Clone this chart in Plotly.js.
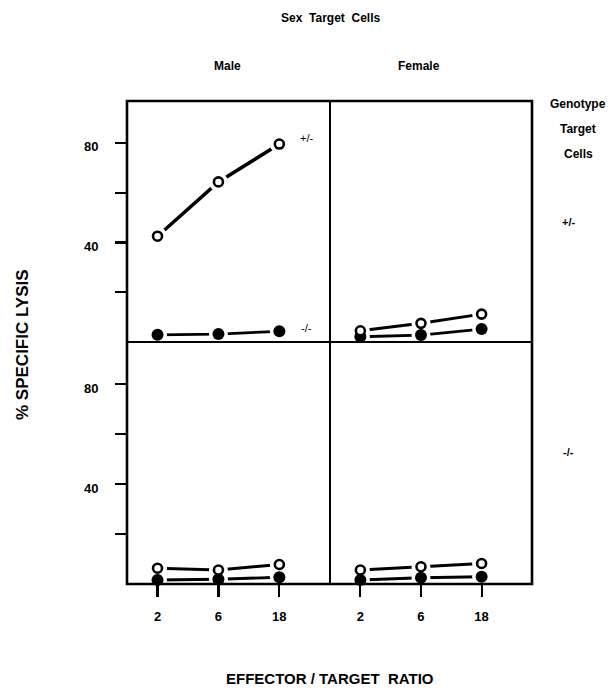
<!DOCTYPE html>
<html>
<head>
<meta charset="utf-8">
<script src="https://cdn.plot.ly/plotly-3.0.1.min.js"></script>
<style>html,body{margin:0;padding:0;background:#fff;}#chart{width:614px;height:690px;}</style>
</head>
<body>
<div id="chart"></div>
<script>
// ---- data ----
var ratios = [2, 6, 18];
var ratioLabels = ['2', '6', '18'];
var yTickVals = [20, 40, 60, 80];
var yTickText = ['', '40', '', '80'];
// open circles = +/- effectors, filled circles = -/- effectors
var maleHetOpen     = [42.5, 64.3, 79.5];
var maleHetFilled   = [2.9, 3.2, 4.3];
var femaleHetOpen   = [4.5, 7.5, 11.2];
var femaleHetFilled = [2.1, 2.8, 5.2];
var maleNullOpen    = [6.3, 5.6, 7.8];
var maleNullFilled  = [1.6, 1.9, 2.7];
var femaleNullOpen  = [5.6, 6.9, 8.2];
var femaleNullFilled= [1.6, 2.5, 2.9];

var FONT = 'Liberation Sans, Arial, Helvetica, sans-serif';
var W = 614, H = 690;
function px(x){ return x / W; }
function py(y){ return 1 - y / H; }

var panels = [
  {xa:'x',  ya:'y',  open: maleHetOpen,    filled: maleHetFilled,    lw: 3.5},
  {xa:'x2', ya:'y2', open: femaleHetOpen,  filled: femaleHetFilled,  lw: 3},
  {xa:'x3', ya:'y3', open: maleNullOpen,   filled: maleNullFilled,   lw: 3},
  {xa:'x4', ya:'y4', open: femaleNullOpen, filled: femaleNullFilled, lw: 3}
];

var lines = [], halos = [], marks = [];
panels.forEach(function(p){
  [p.open, p.filled].forEach(function(vals, i){
    lines.push({x: ratios, y: vals, xaxis: p.xa, yaxis: p.ya, type:'scatter', mode:'lines',
      line:{color:'#000', width: i === 0 ? p.lw : 2.8}, cliponaxis:false, hoverinfo:'skip', showlegend:false});
    halos.push({x: ratios, y: vals, xaxis: p.xa, yaxis: p.ya, type:'scatter', mode:'markers',
      marker:{color:'#fff', size:19, line:{width:0}}, cliponaxis:false, hoverinfo:'skip', showlegend:false});
  });
  marks.push({x: ratios, y: p.filled, xaxis: p.xa, yaxis: p.ya, type:'scatter', mode:'markers',
    marker:{color:'#000', size:12, symbol:'circle', line:{width:0}}, cliponaxis:false, showlegend:false});
  marks.push({x: ratios, y: p.open, xaxis: p.xa, yaxis: p.ya, type:'scatter', mode:'markers',
    marker:{color:'#fff', size:9, symbol:'circle', line:{color:'#000', width:2.6}}, cliponaxis:false, showlegend:false});
});
var data = lines.concat(halos).concat(marks);

var xr = [0.062, 1.652];
var yr = [0, 96.8];
var xL = [px(127), px(330)], xR = [px(330), px(532)];
var yT = [py(342), py(101)], yB = [py(584), py(342)];

function axBase(){
  return {showline:false, showgrid:false, zeroline:false, fixedrange:true};
}
function xAxis(dom, anchor, labels){
  var a = axBase();
  a.type = 'log'; a.range = xr; a.domain = dom; a.anchor = anchor;
  if (labels) {
    a.tickmode = 'array'; a.tickvals = ratios; a.ticktext = ratioLabels;
    a.ticks = 'outside'; a.ticklen = 12; a.tickwidth = 2.2; a.tickcolor = '#000';
    a.ticklabelstandoff = 8;
    a.tickfont = {family: FONT, size: 13, color:'#000', weight:'bold'};
  } else {
    a.ticks = ''; a.showticklabels = false;
  }
  return a;
}
function yAxis(dom, anchor, labels){
  var a = axBase();
  a.range = yr; a.domain = dom; a.anchor = anchor;
  if (labels) {
    a.tickmode = 'array'; a.tickvals = yTickVals; a.ticktext = yTickText;
    a.ticks = 'outside'; a.ticklen = 11; a.tickwidth = 2.2; a.tickcolor = '#000';
    a.ticklabelstandoff = 14; a.ticklabelshift = 4;
    a.tickfont = {family: FONT, size: 13, color:'#000', weight:'bold'};
  } else {
    a.ticks = ''; a.showticklabels = false;
  }
  return a;
}

function ann(text, x, y, size, extra){
  var o = {text: text, xref:'paper', yref:'paper', x: px(x), y: py(y), showarrow:false,
    xanchor:'center', yanchor:'middle', font:{family: FONT, size: size, color:'#000', weight:'bold'}};
  if (extra) for (var k in extra) o[k] = extra[k];
  return o;
}

var annotations = [
  ann('Sex  Target  Cells', 330, 18, 12),
  ann('Male', 227, 66, 12),
  ann('Female', 419, 66, 12),
  ann('Genotype', 578, 104, 12),
  ann('Target', 578, 129, 12),
  ann('Cells', 578, 154, 12),
  ann('+/-', 568, 222, 11),
  ann('-/-', 568, 452, 11),
  ann('% SPECIFIC LYSIS', 22, 345, 17, {textangle:-90}),
  ann('EFFECTOR / TARGET  RATIO', 330, 678, 15),
  {text:'+/-', xref:'x', yref:'y', x: Math.log10(ratios[2]), y: maleHetOpen[2], xshift: 27, yshift: 6,
   showarrow:false, font:{family: FONT, size: 11, color:'#000'}},
  {text:'-/-', xref:'x', yref:'y', x: Math.log10(ratios[2]), y: maleHetFilled[2], xshift: 27, yshift: 3,
   showarrow:false, font:{family: FONT, size: 11, color:'#000'}}
];

var shapes = [
  {type:'rect', xref:'paper', yref:'paper', x0: xL[0], x1: xR[1], y0: yB[0], y1: yT[1],
   line:{color:'#000', width:2.6}, layer:'above'},
  {type:'line', xref:'paper', yref:'paper', x0: xL[1], x1: xL[1], y0: yB[0], y1: yT[1],
   line:{color:'#000', width:2}, layer:'above'},
  {type:'line', xref:'paper', yref:'paper', x0: xL[0], x1: xR[1], y0: yT[0], y1: yT[0],
   line:{color:'#000', width:2}, layer:'above'}
];

var layout = {
  width: W, height: H,
  margin:{l:0, r:0, t:0, b:0},
  paper_bgcolor:'#fff', plot_bgcolor:'#fff',
  showlegend:false,
  font:{family: FONT, color:'#000'},
  xaxis:  xAxis(xL, 'y',  false),
  xaxis2: xAxis(xR, 'y2', false),
  xaxis3: xAxis(xL, 'y3', true),
  xaxis4: xAxis(xR, 'y4', true),
  yaxis:  yAxis(yT, 'x',  true),
  yaxis2: yAxis(yT, 'x2', false),
  yaxis3: yAxis(yB, 'x3', true),
  yaxis4: yAxis(yB, 'x4', false),
  annotations: annotations,
  shapes: shapes
};

Plotly.newPlot('chart', data, layout, {staticPlot:true, displayModeBar:false});
</script>
</body>
</html>
